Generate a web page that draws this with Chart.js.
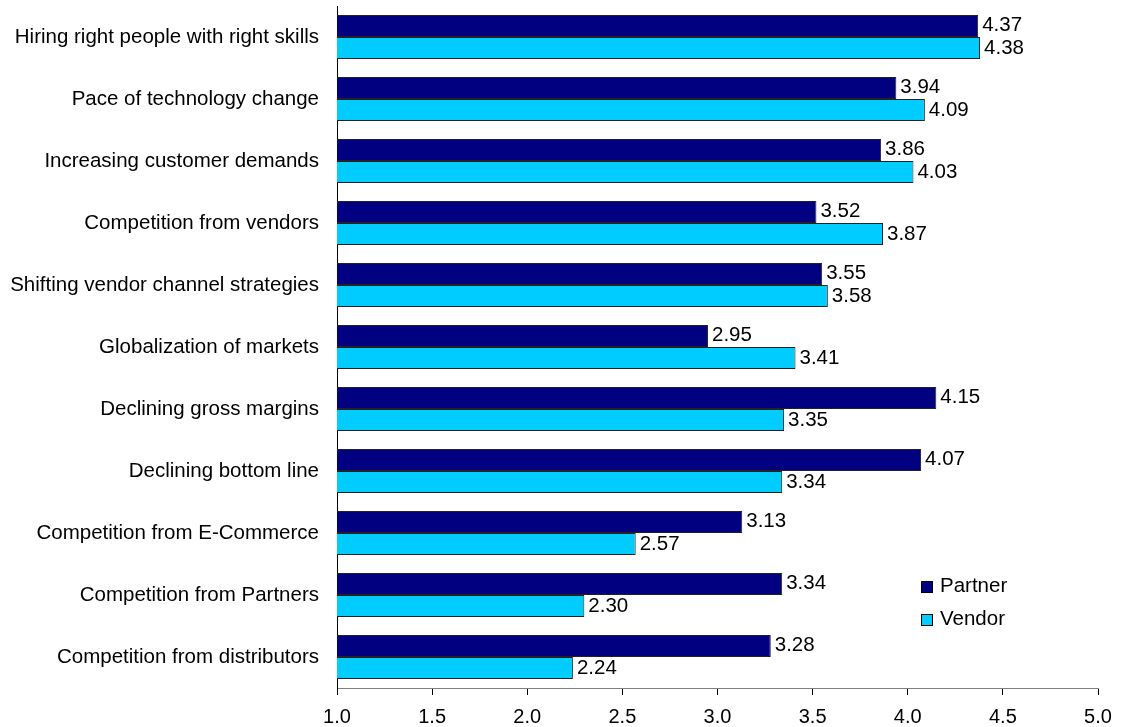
<!DOCTYPE html>
<html>
<head>
<meta charset="utf-8">
<script src="https://cdn.jsdelivr.net/npm/chart.js@4"></script>
<style>
html,body{margin:0;padding:0;background:#fff;}
#wrap{width:1125px;height:727px;position:relative;}
</style>
</head>
<body>
<div id="wrap"><canvas id="c" width="1125" height="727"></canvas></div>
<script>
const categories = [
  "Hiring right people with right skills",
  "Pace of technology change",
  "Increasing customer demands",
  "Competition from vendors",
  "Shifting vendor channel strategies",
  "Globalization of markets",
  "Declining gross margins",
  "Declining bottom line",
  "Competition from E-Commerce",
  "Competition from Partners",
  "Competition from distributors"
];
const partnerValues = [4.37, 3.94, 3.86, 3.52, 3.55, 2.95, 4.15, 4.07, 3.13, 3.34, 3.28];
const vendorValues  = [4.38, 4.09, 4.03, 3.87, 3.58, 3.41, 3.35, 3.34, 2.57, 2.30, 2.24];
const seriesNames = ["Partner", "Vendor"];
const seriesColors = ["#000080", "#00CCFF"];
const xTicks = [1.0, 1.5, 2.0, 2.5, 3.0, 3.5, 4.0, 4.5, 5.0];

const FONT = "'Liberation Sans', Arial, sans-serif";

const labelPlugin = {
  id: 'valueLabels',
  afterDatasetsDraw(chart) {
    const ctx = chart.ctx;
    ctx.save();
    ctx.font = "20.5px " + FONT;
    ctx.fillStyle = "#000";
    ctx.textAlign = "left";
    ctx.textBaseline = "alphabetic";
    chart.data.datasets.forEach((ds, di) => {
      const meta = chart.getDatasetMeta(di);
      meta.data.forEach((bar, i) => {
        ctx.fillText(ds.data[i].toFixed(2), bar.x + 4, bar.y + 5.5);
      });
    });
    ctx.restore();
  }
};

const legendPlugin = {
  id: 'insideLegend',
  afterDraw(chart) {
    const ctx = chart.ctx;
    ctx.save();
    ctx.font = "20.5px " + FONT;
    ctx.textBaseline = "alphabetic";
    ctx.textAlign = "left";
    const x0 = 921, y0 = 581, gap = 33;
    seriesNames.forEach((name, i) => {
      const y = y0 + i * gap;
      ctx.fillStyle = seriesColors[i];
      ctx.fillRect(x0, y, 12, 12);
      ctx.strokeStyle = "#000";
      ctx.lineWidth = 1;
      ctx.strokeRect(x0 + 0.5, y + 0.5, 11, 11);
      ctx.fillStyle = "#000";
      ctx.fillText(name, x0 + 19, y + 11);
    });
    ctx.restore();
  }
};

new Chart(document.getElementById('c'), {
  type: 'bar',
  data: {
    labels: categories,
    datasets: [
      { label: seriesNames[0], data: partnerValues, backgroundColor: seriesColors[0], borderColor: "#222", borderWidth: 1, borderSkipped: false },
      { label: seriesNames[1], data: vendorValues, backgroundColor: seriesColors[1], borderColor: "#222", borderWidth: 1, borderSkipped: false }
    ]
  },
  options: {
    indexAxis: 'y',
    responsive: false,
    animation: false,
    devicePixelRatio: 1,
    layout: { padding: { left: 0, right: 27, top: 6, bottom: 0 } },
    datasets: { bar: { categoryPercentage: 0.71, barPercentage: 1.0 } },
    plugins: {
      legend: { display: false },
      tooltip: { enabled: false }
    },
    scales: {
      x: {
        type: 'linear',
        min: 1, max: 5,
        afterBuildTicks(scale) { scale.ticks = xTicks.map(v => ({ value: v })); },
        afterFit(scale) { scale.height = 39; },
        grid: { drawOnChartArea: false, drawTicks: true, tickLength: 7, color: "#000" },
        border: { display: true, color: "#808080", width: 1 },
        ticks: {
          color: "#000",
          font: { family: FONT, size: 20 },
          padding: 10,
          callback: v => Number(v).toFixed(1)
        }
      },
      y: {
        afterFit(scale) { scale.width = 337; scale.paddingTop = 0; scale.paddingBottom = 0; },
        grid: { drawOnChartArea: false, drawTicks: false },
        border: { display: true, color: "#000", width: 1 },
        ticks: {
          color: "#000",
          font: { family: FONT, size: 20.5 },
          padding: 18
        }
      }
    }
  },
  plugins: [labelPlugin, legendPlugin]
});
</script>
</body>
</html>
